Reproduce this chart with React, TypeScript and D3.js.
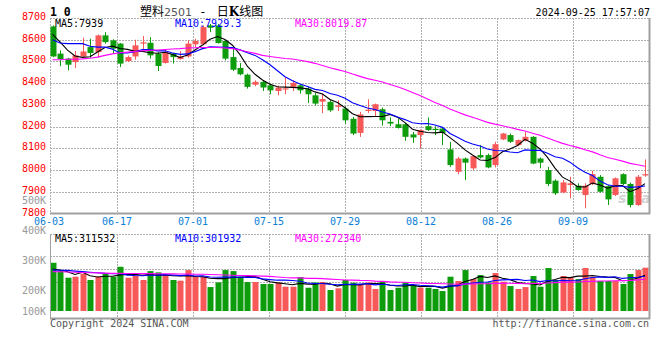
import React from 'react';
import * as d3 from 'd3';

// ---------- data ----------
const opens = [
  8661, 8536, 8513, 8497, 8523, 8566, 8543, 8620, 8597, 8582,
  8502, 8523, 8582, 8586, 8536, 8493, 8536, 8511, 8523, 8579,
  8579, 8666, 8666, 8594, 8520, 8470, 8439, 8393, 8406, 8390,
  8364, 8372, 8383, 8390, 8375, 8344, 8315, 8314, 8291, 8283,
  8236, 8171, 8272, 8272, 8280, 8222, 8211, 8211, 8164, 8161,
  8202, 8190, 8191, 8095, 7992, 8053, 8008, 8069, 8069, 8023,
  8141, 8161, 8115, 8135, 8153, 8053, 8000, 7951, 7897, 7931,
  7928, 7885, 7936, 7969, 7926, 7885, 7981, 7936, 7839, 7975,
];
const highs = [
  8666, 8551, 8517, 8548, 8609, 8605, 8624, 8635, 8602, 8585,
  8527, 8600, 8617, 8612, 8543, 8554, 8540, 8548, 8597, 8605,
  8666, 8673, 8673, 8597, 8559, 8493, 8444, 8413, 8410, 8398,
  8389, 8429, 8413, 8395, 8383, 8355, 8353, 8324, 8321, 8294,
  8245, 8268, 8326, 8306, 8288, 8242, 8237, 8217, 8176, 8187,
  8242, 8202, 8196, 8130, 8061, 8058, 8069, 8115, 8076, 8130,
  8171, 8168, 8141, 8176, 8156, 8058, 8015, 7957, 7954, 7969,
  7939, 7939, 7997, 7977, 7931, 7966, 7985, 7942, 7977, 8049,
];
const lows = [
  8520, 8478, 8459, 8470, 8517, 8517, 8517, 8582, 8536, 8474,
  8497, 8508, 8554, 8513, 8456, 8490, 8490, 8508, 8517, 8566,
  8574, 8635, 8582, 8505, 8456, 8436, 8375, 8386, 8364, 8349,
  8344, 8349, 8364, 8352, 8309, 8298, 8262, 8268, 8272, 8214,
  8161, 8153, 8263, 8245, 8205, 8203, 8191, 8135, 8125, 8100,
  8180, 8161, 8115, 8015, 7981, 7954, 8000, 8053, 8008, 8012,
  8138, 8125, 8110, 8132, 8027, 8008, 7926, 7885, 7893, 7870,
  7905, 7824, 7931, 7896, 7839, 7880, 7931, 7828, 7835, 7969,
];
const closes = [
  8523, 8511, 8485, 8528, 8546, 8539, 8620, 8589, 8559, 8490,
  8520, 8574, 8588, 8528, 8479, 8543, 8520, 8523, 8582, 8594,
  8658, 8655, 8585, 8513, 8462, 8441, 8383, 8406, 8380, 8367,
  8380, 8376, 8401, 8367, 8349, 8306, 8327, 8275, 8298, 8229,
  8168, 8256, 8278, 8303, 8229, 8214, 8194, 8153, 8150, 8184,
  8184, 8184, 8171, 8023, 8053, 8034, 8064, 8058, 8012, 8119,
  8168, 8130, 8138, 8153, 8030, 8034, 7936, 7893, 7943, 7939,
  7908, 7928, 7981, 7900, 7865, 7962, 7936, 7839, 7969, 7981,
];
const volumes = [
  423000, 353000, 292000, 301000, 327000, 272000, 301000, 324000, 301000, 388000,
  292000, 310000, 272000, 350000, 339000, 315000, 272000, 266000, 359000, 301000,
  301000, 210000, 251000, 359000, 350000, 301000, 254000, 254000, 237000, 237000,
  251000, 213000, 213000, 298000, 204000, 250000, 254000, 184000, 199000, 272000,
  248000, 237000, 251000, 193000, 263000, 184000, 204000, 251000, 228000, 204000,
  204000, 193000, 175000, 301000, 263000, 359000, 280000, 315000, 251000, 333000,
  257000, 219000, 193000, 210000, 307000, 213000, 377000, 272000, 307000, 295000,
  280000, 377000, 301000, 263000, 263000, 263000, 237000, 324000, 359000, 380000,
];
// moving-average values before enough history exists
const ma5Lead = [8625, 8590, 8552, 8525];
const ma10Lead = [8600, 8585, 8582, 8582, 8582, 8570, 8566, 8566, 8556];
const ma30Lead = [
  8508, 8508, 8510, 8510, 8512, 8515, 8520, 8528, 8535, 8540,
  8543, 8546, 8549, 8551, 8553, 8555, 8557, 8559, 8562, 8563,
  8564, 8564, 8564, 8562, 8559, 8553, 8545, 8537, 8528,
];
const volMa5Lead = [368000, 359000, 345000, 321000];
const volMa10Lead = [360000, 358000, 356000, 350000, 345000, 340000, 335000, 330000, 328000];
const volMa30Lead = [
  345000, 344000, 342000, 340000, 338000, 336000, 334000, 332000, 330000, 330000,
  329000, 329000, 328000, 328000, 327000, 327000, 326000, 325000, 324000, 323000,
  322000, 320000, 318000, 316000, 314000, 312000, 310000, 308000, 306000,
];

const dateLabels = ['06-03', '06-17', '07-01', '07-15', '07-29', '08-12', '08-26', '09-09'];
const priceTicks = [8700, 8600, 8500, 8400, 8300, 8200, 8100, 8000, 7900, 7800];
const volumeTicks = [500000, 400000, 300000, 200000, 100000];
const volumeTickText = ['500K', '400K', '300K', '200K', '100K'];
const priceLegend = ['MA5:7939', 'MA10:7929.3', 'MA30:8019.87'];
const volumeLegend = ['MA5:311532', 'MA10:301932', 'MA30:272340'];

// ---------- style ----------
const W = 660;
const H = 360;
const L = 50;
const R = 649;
const RED = '#f75858';
const GREEN = '#0c9c0c';
const MA_COLORS = ['#000000', '#0000ff', '#ff00ff'];
const GRID = '#b0b0b0';
const MONO = '"DejaVu Sans Mono", "Liberation Mono", monospace';

function movingAvg(vals: number[], n: number, lead: number[]): number[] {
  return vals.map((_, i) => (i < n - 1 ? lead[i] : d3.mean(vals.slice(i - n + 1, i + 1)) as number));
}

export default function App() {
  const n = closes.length;
  const x = d3.scaleLinear().domain([0, n - 1]).range([52.5, 645]);
  const y = d3.scaleLinear().domain([7800, 8700]).range([213.5, 18]);
  const yv = d3.scaleLinear().domain([0, 100000]).range([311, 299.6]);
  const yvLabel = d3.scaleLinear().domain([500000, 200000]).range([200.3, 290.3]);
  const gridX = d3.scaleLinear().domain([0, 8]).range([R + 1 - 8 * 76, R + 1]);
  const vGridY = d3.scaleLinear().domain([0, 3]).range([255.7, 295.7]);

  const ma = [movingAvg(closes, 5, ma5Lead), movingAvg(closes, 10, ma10Lead), movingAvg(closes, 30, ma30Lead)];
  const vma = [movingAvg(volumes, 5, volMa5Lead), movingAvg(volumes, 10, volMa10Lead), movingAvg(volumes, 30, volMa30Lead)];

  const line = d3.line<number>().x((_, i) => x(i)).y((d) => y(d));
  const vline = d3.line<number>().x((_, i) => x(i)).y((d) => yv(d));

  const px = (v: number) => Math.round(v) + 0.5;
  const legendX = [55, 175, 295];

  return (
    <svg width={W} height={H} style={{ position: 'absolute', left: 0, top: 0, background: '#fff' }}
      fontFamily={MONO} fontSize={10}>
      <defs>
        <clipPath id="pclip"><rect x={L} y={17} width={R - L} height={197.5} /></clipPath>
        <clipPath id="vclip"><rect x={L} y={234} width={R - L} height={85} /></clipPath>
      </defs>
      <rect x={0} y={0} width={W} height={H} fill="#fff" />

      {/* header */}
      <text x={50} y={15.5} fontSize={11.5} fontWeight="bold" fill="#000">1 0</text>
      <text x={140} y={15.5} fontSize={12} fontFamily='"Noto Sans CJK SC", sans-serif' fill="#000">
        <tspan>塑料</tspan>
        <tspan fill="#555" fontFamily='"DejaVu Sans", sans-serif' fontSize={11}>2501</tspan>
        <tspan fontFamily='"DejaVu Sans Mono", monospace'> - </tspan>
        <tspan dx={3}>日</tspan>
        <tspan fontWeight="bold" fontFamily='"DejaVu Serif", serif'>K</tspan>
        <tspan>线图</tspan>
      </text>
      <text x={650} y={16} textAnchor="end" fill="#000">2024-09-25 17:57:07</text>

      {/* price grid */}
      {priceTicks.slice(1, -1).map((t) => (
        <line key={'hp' + t} x1={L} x2={R} y1={px(y(t))} y2={px(y(t))} stroke={GRID} strokeDasharray="2,1" />
      ))}
      <line x1={L} x2={R} y1={18.5} y2={18.5} stroke={GRID} strokeDasharray="2,1" />
      {d3.range(1, 8).map((k) => (
        <g key={'vg' + k}>
          <line x1={px(gridX(k) - 1)} x2={px(gridX(k) - 1)} y1={18} y2={213} stroke={GRID} strokeDasharray="2,1" />
          <line x1={px(gridX(k) - 1)} x2={px(gridX(k) - 1)} y1={234} y2={318} stroke={GRID} strokeDasharray="2,1" />
        </g>
      ))}
      <line x1={L + 0.5} x2={L + 0.5} y1={18} y2={214} stroke={GRID} strokeDasharray="2,1" />

      {/* watermark */}
      <text x={618} y={203} fontSize={14} fontStyle="italic" fontWeight="bold"
        fontFamily='"DejaVu Sans", sans-serif' fill="#d4d4d4">sina</text>

      {/* candles */}
      <g clipPath="url(#pclip)">
        {closes.map((c, i) => {
          const o = opens[i];
          const col = c >= o ? RED : GREEN;
          const cx = Math.round(x(i));
          const top = y(Math.max(o, c));
          const bot = y(Math.min(o, c));
          return (
            <g key={'c' + i}>
              <line x1={cx + 0.5} x2={cx + 0.5} y1={y(highs[i])} y2={y(lows[i])} stroke={col} strokeWidth={1} />
              <rect x={cx - 2.5} y={top} width={6} height={Math.max(1.2, bot - top)} fill={col} />
            </g>
          );
        })}
        {ma.map((m, k) => (
          <path key={'ma' + k} d={line(m) as string} fill="none" stroke={MA_COLORS[k]} strokeWidth={1.1} />
        ))}
      </g>

      {/* price frame */}
      <line x1={L} x2={R + 1} y1={213.5} y2={213.5} stroke="#a0a0a0" strokeWidth={2} />
      <line x1={R + 0.5} x2={R + 0.5} y1={18} y2={214} stroke="#a0a0a0" strokeWidth={2} />

      {/* price axis labels */}
      {priceTicks.map((t) => (
        <text key={'pl' + t} x={46} y={y(t) + 2} textAnchor="end" fill="#ff0000">{t}</text>
      ))}
      {priceLegend.map((s, k) => (
        <text key={'pleg' + k} x={legendX[k]} y={27} fill={MA_COLORS[k]}>{s}</text>
      ))}

      {/* date labels */}
      {dateLabels.map((d, k) => (
        <text key={'d' + d} x={Math.max(L - 1, gridX(k) - 1)} y={224.5} textAnchor="middle" fill="#0a7ed6">{d}</text>
      ))}

      {/* volume panel grid */}
      <line x1={L} x2={R} y1={234.5} y2={234.5} stroke={GRID} strokeDasharray="2,1" />
      {d3.range(0, 3).map((k) => (
        <line key={'vh' + k} x1={L} x2={R} y1={px(vGridY(k))} y2={px(vGridY(k))} stroke={GRID} strokeDasharray="2,1" />
      ))}

      <g clipPath="url(#vclip)">
        {volumes.map((v, i) => {
          const col = closes[i] >= opens[i] ? RED : GREEN;
          const cx = Math.round(x(i));
          return <rect key={'v' + i} x={cx - 2.5} y={yv(v)} width={6} height={yv(0) - yv(v)} fill={col} />;
        })}
        {vma.map((m, k) => (
          <path key={'vma' + k} d={vline(m) as string} fill="none" stroke={MA_COLORS[k]} strokeWidth={1.1} />
        ))}
      </g>

      <line x1={L + 0.5} x2={L + 0.5} y1={234} y2={319} stroke="#a0a0a0" strokeWidth={1} />
      <line x1={L} x2={R + 1} y1={318.5} y2={318.5} stroke="#a0a0a0" strokeWidth={2} />
      <line x1={R + 0.5} x2={R + 0.5} y1={234} y2={319} stroke="#a0a0a0" strokeWidth={2} />

      {volumeTicks.map((v, k) => (
        <text key={'vl' + v} x={46} y={Math.min(311, yvLabel(v)) + 3.6} textAnchor="end" fill="#999">{volumeTickText[k]}</text>
      ))}
      {volumeLegend.map((s, k) => (
        <text key={'vleg' + k} x={legendX[k]} y={242} fill={MA_COLORS[k]}>{s}</text>
      ))}

      {/* footer */}
      <text x={50} y={327} fill="#555">Copyright 2024 SINA.COM</text>
      <text x={649} y={327} textAnchor="end" fill="#555">http://finance.sina.com.cn</text>
    </svg>
  );
}
